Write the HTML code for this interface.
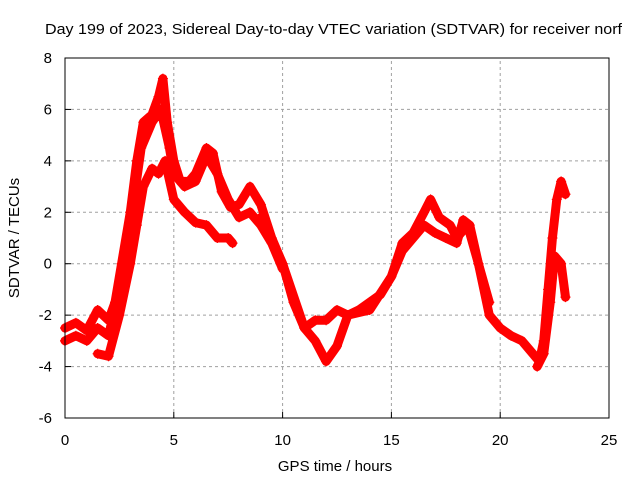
<!DOCTYPE html>
<html><head><meta charset="utf-8"><style>
body{margin:0;background:#fff;}
svg{display:block;font-family:"Liberation Sans",sans-serif;font-size:15px;}
</style></head><body>
<svg width="640" height="480">
<rect width="640" height="480" fill="#fff"/>
<g id="grid"></g>
<g id="marks"></g>
<rect x="65" y="58" width="544" height="360" fill="none" stroke="#000" stroke-width="1"/>
<g id="ticks"></g>
<text x="45" y="34" textLength="577" lengthAdjust="spacingAndGlyphs">Day 199 of 2023, Sidereal Day-to-day VTEC variation (SDTVAR) for receiver norf</text>
<text x="335" y="471" text-anchor="middle">GPS time / hours</text>
<text transform="translate(19,238) rotate(-90)" text-anchor="middle">SDTVAR / TECUs</text>
</svg>
<script>
const xTicks=[0,5,10,15,20,25];
const yTicks=[-6,-4,-2,0,2,4,6,8];
const trackA_h=[0,0.5,1,1.5,2,2.3,2.6,3,3.3,3.6,4,4.3,4.5,4.7,5,5.3,5.7,6,6.5,6.8,7.2,7.6,8,8.5,9,9.5,10,10.5,11,11.5,12,12.5,13,13.5,14,14.5,15,15.5,16,16.5,16.8,17.2,17.7,18,18.5,19,19.5,20,20.5,21,21.5,21.8,22,22.2,22.4,22.6,22.8,23];
const trackA_v=[-2.5,-2.3,-2.6,-1.8,-2.2,-1.5,0,2,4,5.5,5.8,6.5,7.2,5.5,4,3.2,3.2,3.5,4.5,4.3,2.8,2.2,2.3,3,2.3,1,0,-1.5,-2.5,-2.2,-2.2,-1.8,-2,-1.8,-1.5,-1.2,-0.5,0.8,1.2,2,2.5,1.8,1.5,1,1.5,0,-2,-2.5,-2.8,-3,-3.5,-3.8,-3,-1,1,2.5,3.2,2.7];
const trackB_h=[0,0.5,1,1.5,2,2.5,3,3.5,4,4.4,4.8,5,5.5,6,6.5,7,7.5,8,8.5,9,9.5,10];
const trackB_v=[-3,-2.8,-3,-2.5,-2.8,-1,1.5,4.5,5.5,6,4.5,3.5,3,3.2,4.2,3.5,2.5,1.8,2,1.5,0.8,-0.2];
const trackC_h=[1.5,2,2.5,3,3.3,3.6,4,4.3,4.6,5,5.5,6,6.5,7,7.5,7.7];
const trackC_v=[-3.5,-3.6,-2,0,1.5,3,3.7,3.5,4,2.5,2,1.6,1.5,1,1,0.8];
const trackD_h=[9,10,11,11.5,12,12.5,13,14,15,15.5,16,16.5,17,17.5,18,18.3,18.6,19,19.5];
const trackD_v=[1.8,0,-2.5,-3,-3.8,-3.2,-2,-1.8,-0.5,0.5,1,1.5,1.2,1,0.8,1.7,1.5,0,-1.5];
const trackE_h=[21.7,22,22.3,22.5,22.8,23];
const trackE_v=[-4,-3.5,-1.5,0.3,0,-1.3];
const X0=65,X1=609,Y0=418,Y1=58;
const xs=h=>X0+(h-0)/25*(X1-X0);
const ys=v=>Y0-(v+6)/14*(Y0-Y1);
const NS="http://www.w3.org/2000/svg";
const grid=document.getElementById('grid'),ticks=document.getElementById('ticks'),marks=document.getElementById('marks');
function mk(tag,attrs,parent){const e=document.createElementNS(NS,tag);for(const k in attrs)e.setAttribute(k,attrs[k]);parent.appendChild(e);return e;}
xTicks.forEach(t=>{const x=xs(t);
 const g=mk('line',{x1:x,x2:x,y1:Y0,y2:Y1,stroke:'#a0a0a0','stroke-dasharray':'3,3'},grid);
 
 
 const l=mk('text',{x:x,y:Y0+27,'text-anchor':'middle'},ticks);l.textContent=t;
 
 
 mk('line',{x1:x,x2:x,y1:Y0,y2:Y0-6,stroke:'#000'},ticks);
});
yTicks.forEach(t=>{const y=ys(t);
 const g=mk('line',{x1:X0,x2:X1,y1:y,y2:y,stroke:'#a0a0a0','stroke-dasharray':'3,3'},grid);
 
 
 const l=mk('text',{x:X0-13,y:y+5,'text-anchor':'end'},ticks);l.textContent=t;
 
 
 mk('line',{x1:X0,x2:X0+6,y1:y,y2:y,stroke:'#000'},ticks);
});
[[trackA_h,trackA_v],[trackB_h,trackB_v],[trackC_h,trackC_v],[trackD_h,trackD_v],[trackE_h,trackE_v]].forEach((s,i)=>{
 const pts=s[0].map((h,j)=>xs(h)+','+ys(s[1][j])).join(' ');
 const pl=mk('polyline',{points:pts,fill:'none',stroke:'#ff0000','stroke-width':9,'stroke-linejoin':'round','stroke-linecap':'round'},marks);
 
 
 s[0].forEach((h,j)=>{const x=xs(h),y=ys(s[1][j]);
  const p=mk('path',{d:`M${x-5},${y}h10M${x},${y-5}v10`,stroke:'#ff0000','stroke-width':1.2},marks);
  
  
 });
});
</script>
</body></html>
